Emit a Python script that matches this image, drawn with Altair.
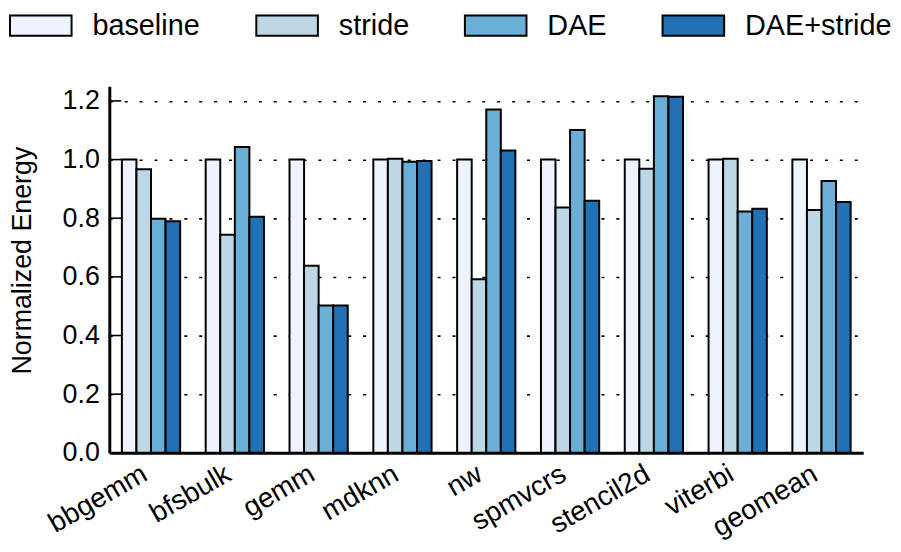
import altair as alt
import pandas as pd

benchmarks = ["bbgemm", "bfsbulk", "gemm", "mdknn", "nw", "spmvcrs", "stencil2d", "viterbi", "geomean"]
series = ["baseline", "stride", "DAE", "DAE+stride"]
baseline = [1.0, 1.0, 1.0, 1.0, 1.0, 1.0, 1.0, 1.0, 1.0]
stride = [0.967, 0.744, 0.638, 1.003, 0.592, 0.837, 0.969, 1.003, 0.828]
dae = [0.798, 1.043, 0.502, 0.993, 1.171, 1.101, 1.216, 0.823, 0.927]
dae_stride = [0.790, 0.805, 0.502, 0.995, 1.031, 0.860, 1.214, 0.832, 0.855]
colors = ["#eff3ff", "#bdd7e7", "#6baed6", "#2171b5"]
y_ticks = [0.0, 0.2, 0.4, 0.6, 0.8, 1.0, 1.2]

rows = []
for name, vals in zip(series, [baseline, stride, dae, dae_stride]):
    for b, v in zip(benchmarks, vals):
        rows.append({"benchmark": b, "config": name, "value": v})
df = pd.DataFrame(rows)
ticks_df = pd.DataFrame({"value": y_ticks})

FONT = "Liberation Sans"
Y_TITLE = "Normalized Energy"

y_axis = alt.Axis(values=y_ticks, format=".1f", labelFontSize=27, labelFont=FONT,
                  labelColor="black", labelPadding=10, ticks=False,
                  domainColor="black", domainWidth=3,
                  grid=True, gridColor="black", gridDash=[3, 12], gridWidth=1.6,
                  titleFontSize=27, titleFont=FONT, titleFontWeight="normal",
                  titleColor="black", titlePadding=26, titleY=175)
y_scale = alt.Scale(domain=[0, 1.25], nice=False, zero=True)

bars = alt.Chart(df).mark_bar(stroke="black", strokeWidth=2).encode(
    x=alt.X("benchmark:N", sort=benchmarks, title=None,
            scale=alt.Scale(paddingInner=0.305, paddingOuter=0.15),
            axis=alt.Axis(labelAngle=-30, labelAlign="right", labelBaseline="top",
                          labelFontSize=28, labelFont=FONT, labelColor="black",
                          labelPadding=7, labelOffset=-13, ticks=False, domainColor="black",
                          domainWidth=3, grid=False)),
    xOffset=alt.XOffset("config:N", sort=series, scale=alt.Scale(paddingInner=0, paddingOuter=0)),
    y=alt.Y("value:Q", title=Y_TITLE, scale=y_scale, axis=y_axis),
    fill=alt.Fill("config:N", sort=series,
                  scale=alt.Scale(domain=series, range=colors),
                  legend=alt.Legend(title=None, orient="none", legendX=-101, legendY=-93,
                                    direction="horizontal", columns=4,
                                    symbolType="M-1,-0.33H1V0.33H-1Z", symbolSize=3844,
                                    symbolStrokeColor="black", symbolStrokeWidth=2,
                                    symbolOpacity=1, labelFontSize=29, labelFont=FONT,
                                    labelColor="black", labelOffset=20, columnPadding=52)),
)

tick_marks = alt.Chart(ticks_df).mark_rule(color="black", strokeWidth=1.6).encode(
    y=alt.Y("value:Q", title=Y_TITLE, scale=y_scale, axis=y_axis),
    x=alt.value(0),
    x2=alt.value(12),
)

chart = alt.layer(bars, tick_marks).properties(
    width=759, height=369,
    background="white",
    autosize=alt.AutoSizeParams(type="none"),
    padding={"left": 102, "top": 77, "right": 30, "bottom": 90},
).configure_view(stroke=None)

chart.save("out.html", embed_options={"renderer": "svg", "actions": False})
